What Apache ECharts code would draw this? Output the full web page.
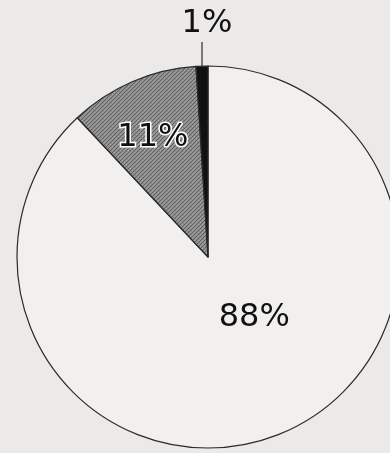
<!DOCTYPE html>
<html>
<head>
<meta charset="utf-8">
<script src="https://cdn.jsdelivr.net/npm/echarts@6/dist/echarts.min.js"></script>
<style>
  html, body { margin: 0; padding: 0; background: #ebeae9; }
  #chart { width: 390px; height: 453px; }
</style>
</head>
<body>
<div id="chart"></div>
<script>
// Share of each group (percent), drawn clockwise from 12 o'clock
const categories = ['A', 'B', 'C'];
const shares = [88, 11, 1];

// Fine cross-hatch texture for the mid-grey slice
function hatch() {
  const c = document.createElement('canvas');
  c.width = 4; c.height = 4;
  const g = c.getContext('2d');
  g.fillStyle = '#8e8e8e';
  g.fillRect(0, 0, 4, 4);
  g.fillStyle = '#5f5f5f';
  [[0,0],[2,2],[1,3],[3,1]].forEach(p => g.fillRect(p[0], p[1], 1, 1));
  g.fillStyle = '#a6a6a6';
  [[2,0],[0,2]].forEach(p => g.fillRect(p[0], p[1], 1, 1));
  return c;
}

const fills = ['#f1f0ef', { image: hatch(), repeat: 'repeat' }, '#111111'];
const labelStyles = [
  { position: 'inside', offset: [10, -31], fontSize: 32, color: '#111' },
  { position: 'inside', offset: [-16, -29], fontSize: 32, color: '#111',
    textBorderColor: '#ffffff', textBorderWidth: 3 },
  { position: 'outside', fontSize: 32, color: '#111' }
];

const chart = echarts.init(document.getElementById('chart'));
chart.setOption({
  backgroundColor: '#ebeae9',
  animation: false,
  series: [{
    type: 'pie',
    center: [208, 257],
    radius: 191,
    startAngle: 90,
    clockwise: true,
    avoidLabelOverlap: false,
    itemStyle: { borderColor: '#2a2a2a', borderWidth: 1.2 },
    label: {
      fontFamily: 'DejaVu Sans',
      formatter: '{d}%'
    },
    labelLine: { show: false },
    // The small slice gets a straight vertical leader with its label centred above it
    labelLayout: function (p) {
      if (p.dataIndex !== 2 || !p.labelLinePoints) return {};
      const start = p.labelLinePoints[0];
      const top = start[1] - 24;
      return {
        x: start[0] + 5,
        y: top - 2,
        align: 'center',
        verticalAlign: 'bottom',
        labelLinePoints: [[start[0], start[1]], [start[0], top]]
      };
    },
    data: categories.map((name, i) => ({
      name: name,
      value: shares[i],
      itemStyle: { color: fills[i] },
      label: labelStyles[i],
      labelLine: i === 2
        ? { show: true, length: 24, length2: 0, lineStyle: { color: '#2a2a2a', width: 1.2 } }
        : { show: false }
    }))
  }]
});
</script>
</body>
</html>
